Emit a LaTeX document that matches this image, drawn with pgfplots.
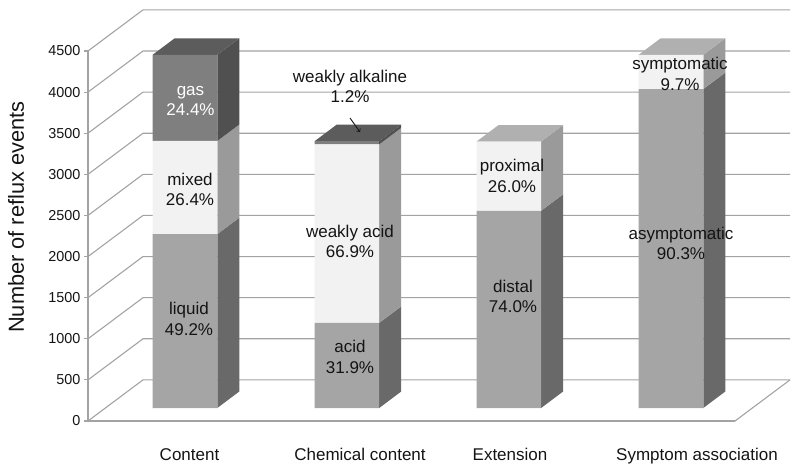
\documentclass[border=0pt]{standalone}
\usepackage{fontspec}
\setmainfont{Liberation Sans}
\usepackage{pgfplots}
\pgfplotsset{compat=1.18}
\definecolor{low}{HTML}{A5A5A5}
\definecolor{lowside}{HTML}{696969}
\definecolor{mid}{HTML}{F2F2F2}
\definecolor{midside}{HTML}{9A9A9A}
\definecolor{midtop}{HTML}{B0B0B0}
\definecolor{high}{HTML}{7F7F7F}
\definecolor{highside}{HTML}{505050}
\definecolor{hightop}{HTML}{5C5C5C}
\definecolor{gridc}{HTML}{A3A3A3}
\definecolor{ink}{HTML}{141414}
\pgfplotsset{
  common/.style={at={(0pt,0pt)},anchor=south west,scale only axis,width=647pt,height=370pt,xmin=88,xmax=735,clip=false},
  wall/.style={draw=gridc,line width=1.1pt,forget plot},
  hiddenaxis/.style={common,hide axis,ymin=-158,ymax=4342},
}
\newcommand{\lab}[1]{\fontsize{17}{20.5}\selectfont #1}
\begin{document}
\begin{tikzpicture}
\path[use as bounding box] (-88pt,-52pt) rectangle (712pt,421pt);
% walls, floor and the axis with its ticks
\begin{axis}[common,ymin=0,ymax=4500,
  axis y line*=left,axis x line*=bottom,
  axis line style={draw=gridc,line width=1.1pt,-},
  ytick={0,500,1000,1500,2000,2500,3000,3500,4000,4500},
  ytick style={draw=gridc,line width=1.1pt},
  tick align=outside,major tick length=4pt,
  xtick={189.5,360,510,697},
  xticklabels={Content,Chemical content,Extension,Symptom association},
  xtick style={draw=none},
  x tick label style={font=\fontsize{17}{20}\selectfont,text=ink,yshift=-20pt},
  y tick label style={font=\fontsize{14.4}{17}\selectfont,text=ink},
  /pgf/number format/assume math mode=true,
  /pgf/number format/1000 sep={},
  ylabel={Number of reflux events},
  y label style={at={(axis description cs:-0.111,0.551)},anchor=center,font=\fontsize{21.8}{24}\selectfont,text=ink},
]
\addplot[wall] coordinates {(88,0)(735,0)(790,500)};
\addplot[wall] coordinates {(88,0)(143,500)(790,500)};
\addplot[wall] coordinates {(88,500)(143,1000)(790,1000)};
\addplot[wall] coordinates {(88,1000)(143,1500)(790,1500)};
\addplot[wall] coordinates {(88,1500)(143,2000)(790,2000)};
\addplot[wall] coordinates {(88,2000)(143,2500)(790,2500)};
\addplot[wall] coordinates {(88,2500)(143,3000)(790,3000)};
\addplot[wall] coordinates {(88,3000)(143,3500)(790,3500)};
\addplot[wall] coordinates {(88,3500)(143,4000)(790,4000)};
\addplot[wall] coordinates {(88,4000)(143,4500)(790,4500)};
\addplot[wall] coordinates {(88,4500)(143,5000)(790,5000)};
\end{axis}
% side and top faces of the bars
\begin{axis}[hiddenaxis]
% Content
\addplot[fill=lowside,draw=none] coordinates {(217.3,0)(239.3,200.7)(239.3,2314.7)(217.3,2114)} -- cycle;
\addplot[fill=midside,draw=none] coordinates {(217.3,2114)(239.3,2314.7)(239.3,3448.7)(217.3,3248)} -- cycle;
\addplot[fill=highside,draw=none] coordinates {(217.3,3248)(239.3,3448.7)(239.3,4496.7)(217.3,4296)} -- cycle;
\addplot[fill=hightop,draw=none] coordinates {(152.7,4296)(217.3,4296)(239.3,4496.7)(174.7,4496.7)} -- cycle;
% Chemical content
\addplot[fill=lowside,draw=none] coordinates {(379.2,0)(401.2,200.7)(401.2,1235.7)(379.2,1035)} -- cycle;
\addplot[fill=midside,draw=none] coordinates {(379.2,1035)(401.2,1235.7)(401.2,3406.7)(379.2,3206)} -- cycle;
\addplot[fill=highside,draw=none] coordinates {(379.2,3206)(401.2,3406.7)(401.2,3445.7)(379.2,3245)} -- cycle;
\addplot[fill=hightop,draw=none] coordinates {(314.6,3245)(379.2,3245)(401.2,3445.7)(336.6,3445.7)} -- cycle;
% Extension
\addplot[fill=lowside,draw=none] coordinates {(541.1,0)(563.1,200.7)(563.1,2598.7)(541.1,2398)} -- cycle;
\addplot[fill=midside,draw=none] coordinates {(541.1,2398)(563.1,2598.7)(563.1,3440.7)(541.1,3240)} -- cycle;
\addplot[fill=midtop,draw=none] coordinates {(476.5,3240)(541.1,3240)(563.1,3440.7)(498.5,3440.7)} -- cycle;
% Symptom association
\addplot[fill=lowside,draw=none] coordinates {(703.3,0)(725.3,200.7)(725.3,4079.7)(703.3,3879)} -- cycle;
\addplot[fill=midside,draw=none] coordinates {(703.3,3879)(725.3,4079.7)(725.3,4496.7)(703.3,4296)} -- cycle;
\addplot[fill=midtop,draw=none] coordinates {(638.7,4296)(703.3,4296)(725.3,4496.7)(660.7,4496.7)} -- cycle;
\end{axis}
% front faces
\begin{axis}[hiddenaxis,ybar stacked,bar width=64.6]
\addplot[fill=low,draw=none] coordinates {(185,2114)(346.9,1035)(508.8,2398)(671,3879)};
\addplot[fill=mid,draw=none] coordinates {(185,1134)(346.9,2171)(508.8,842)(671,417)};
\addplot[fill=high,draw=none] coordinates {(185,1048)(346.9,39)(508.8,0)(671,0)};
\end{axis}
% labels, above every bar
\begin{axis}[hiddenaxis]
\tikzset{every node/.style={align=center,text=ink,font=\lab{}}}
\node[text=white] at (axis cs:190.5,3734) {gas\\24.4\%};
\node at (axis cs:190,2660) {mixed\\26.4\%};
\node at (axis cs:189,1083) {liquid\\49.2\%};
\node at (axis cs:350,3910) {weakly alkaline\\1.2\%};
\node at (axis cs:350,2023) {weakly acid\\66.9\%};
\node at (axis cs:350,620) {acid\\31.9\%};
\node at (axis cs:512,2820) {proximal\\26.0\%};
\node at (axis cs:513,1360) {distal\\74.0\%};
\node at (axis cs:680,4065) {symptomatic\\9.7\%};
\node at (axis cs:681,2000) {asymptomatic\\90.3\%};
\draw[->,ink,line width=0.9pt] (axis cs:350,3527) -- (axis cs:360,3357);
\end{axis}
\end{tikzpicture}
\end{document}
